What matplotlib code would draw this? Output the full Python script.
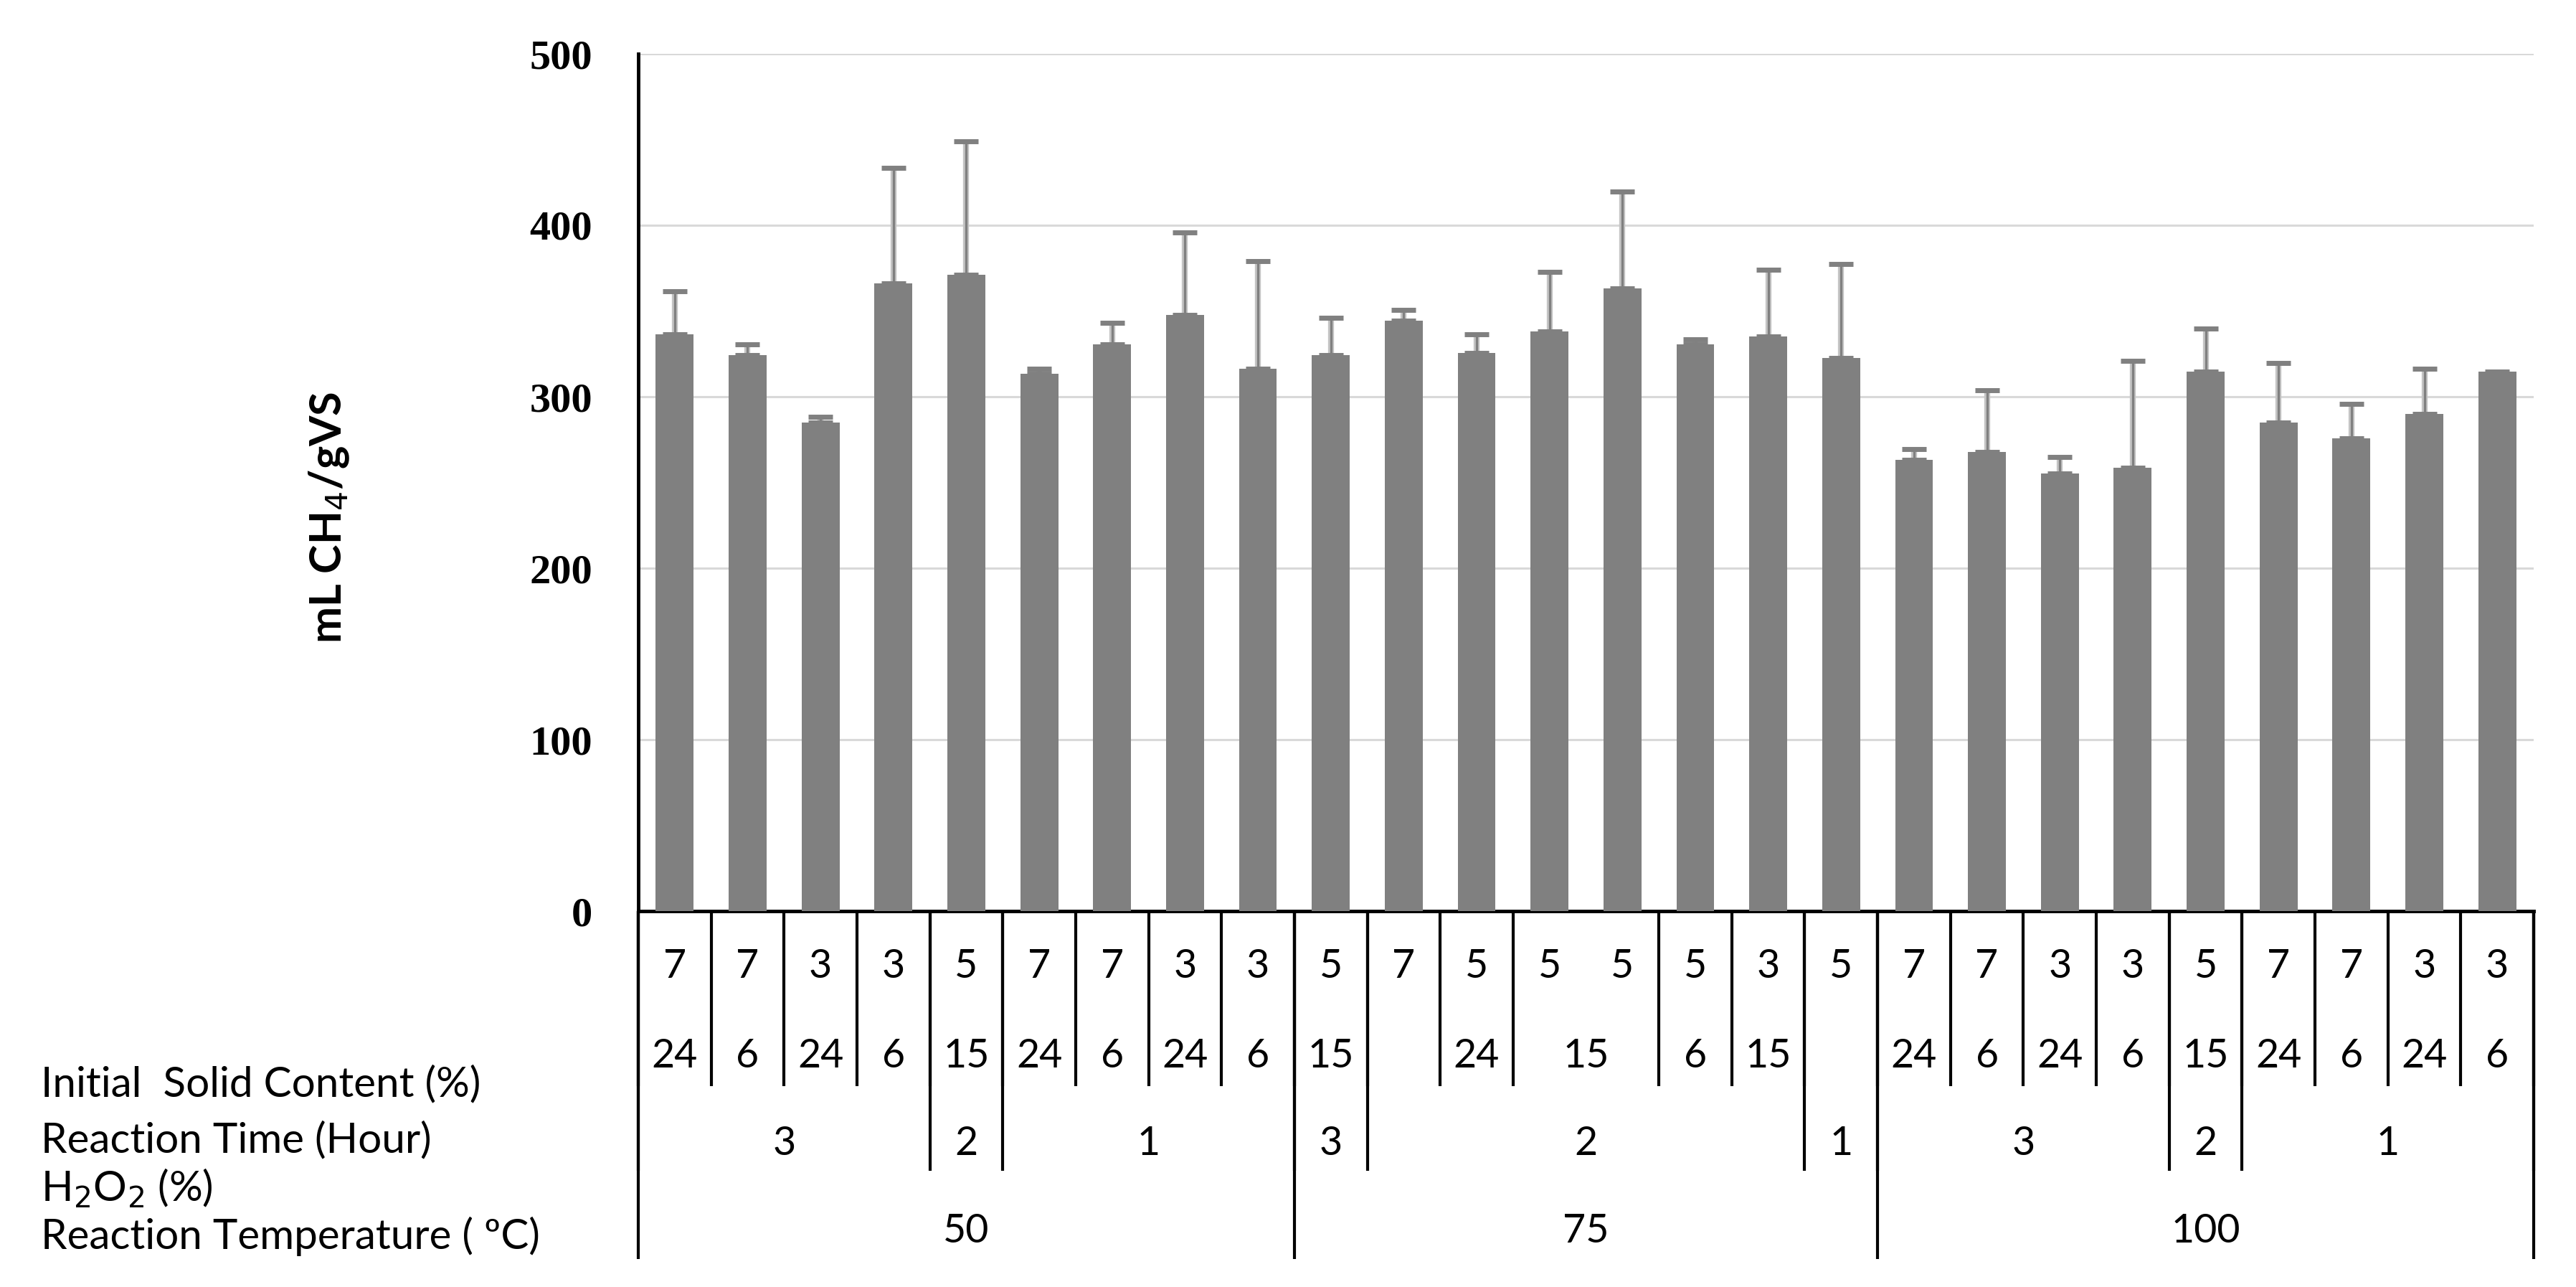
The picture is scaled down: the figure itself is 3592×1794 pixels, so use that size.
import numpy as np
import matplotlib.pyplot as plt
from matplotlib.transforms import blended_transform_factory

# valori (mL CH4 / gVS)
methane = [336.5, 324.1, 285.0, 366.3, 371.0, 313.2, 330.5, 347.5, 316.4,
           324.1, 344.4, 325.6, 338.0, 363.1, 330.5, 335.0, 322.6,
           263.1, 267.8, 255.4, 258.6, 314.7, 285.0, 275.7, 289.8, 314.7]
err_plus = [25.0, 6.4, 3.3, 67.0, 78.0, 3.2, 12.5, 48.5, 62.5,
            22.0, 6.3, 11.0, 34.7, 56.5, 2.8, 39.0, 55.0,
            6.4, 36.0, 9.4, 62.5, 25.0, 34.6, 20.3, 26.6, np.nan]

# etichete pe niveluri (axa cu categorii multiple)
solid_labels = ['7', '7', '3', '3', '5', '7', '7', '3', '3',
                '5', '7', '5', '5', '5', '5', '3', '5',
                '7', '7', '3', '3', '5', '7', '7', '3', '3']
time_labels = ['24', '6', '24', '6', '15', '24', '6', '24', '6',
               '15', '', '24', '15', '6', '15', '',
               '24', '6', '24', '6', '15', '24', '6', '24', '6']
time_spans = [1, 1, 1, 1, 1, 1, 1, 1, 1,
              1, 1, 1, 2, 1, 1, 1,
              1, 1, 1, 1, 1, 1, 1, 1, 1]
h2o2_labels = ['3', '2', '1', '3', '2', '1', '3', '2', '1']
h2o2_spans = [4, 1, 4, 1, 6, 1, 4, 1, 4]
temp_labels = ['50', '75', '100']
temp_spans = [9, 8, 9]

row_names = ['Initial  Solid Content (%)', 'Reaction Time (Hour)',
             r'H$_2$O$_2$ (%)', 'Reaction Temperature ( ºC)']

W, H = 3592, 1794
fig = plt.figure(figsize=(W / 100, H / 100), dpi=100)
ax = fig.add_axes([890 / W, 1 - 1270 / H, (3533 - 890) / W, (1270 - 75) / H])

x = np.arange(len(methane))
ax.bar(x, methane, width=0.52, color='#808080', zorder=3)
# bara de eroare: contur deschis + linie inchisa la mijloc
ax.errorbar(x, methane, yerr=[np.zeros(len(x)), err_plus], fmt='none',
            ecolor='#c4c4c4', elinewidth=6, capsize=0, zorder=4)
ax.errorbar(x, methane, yerr=[np.zeros(len(x)), err_plus], fmt='none',
            ecolor='#808080', elinewidth=2.4, capsize=12.5, capthick=5, zorder=5)

ax.set_xlim(-0.5, len(x) - 0.5)
ax.set_ylim(0, 500)
ax.set_yticks([0, 100, 200, 300, 400, 500])
ax.set_xticks([])
ax.yaxis.grid(True, color='#d9d9d9', linewidth=2.2, zorder=0)
ax.tick_params(axis='y', length=0, pad=46)
for lab in ax.get_yticklabels():
    lab.set_fontfamily('Liberation Serif')
    lab.set_fontweight('bold')
    lab.set_fontsize(42)

ax.spines['top'].set_visible(False)
ax.spines['right'].set_visible(False)
ax.spines['left'].set_linewidth(3.5)
ax.spines['bottom'].set_linewidth(3.5)

fig.text(459 / W, 1 - 721 / H, r'mL CH$_4$/gVS', rotation=90, ha='center', va='center',
         fontsize=44, fontweight='bold', family='Lato')

# tabelul de sub axa
tr = blended_transform_factory(ax.transData, fig.transFigure)


def fy(py):
    return 1 - py / H


def vline(xpos, bottom):
    ax.plot([xpos, xpos], [fy(1270), fy(bottom)], color='black', lw=3,
            transform=tr, clip_on=False, solid_capstyle='butt')


text_kw = dict(ha='center', va='center', fontsize=40, family='Lato', transform=tr)

for i, s in enumerate(solid_labels):
    ax.text(i, fy(1347), s, **text_kw)


def level(labels, spans, ytext, ybottom):
    start = 0
    for lab, sp in zip(labels, spans):
        ax.text(start + sp / 2 - 0.5, fy(ytext), lab, **text_kw)
        vline(start - 0.5, ybottom)
        start += sp
    vline(start - 0.5, ybottom)


level(time_labels, time_spans, 1472, 1514)
level(h2o2_labels, h2o2_spans, 1594, 1632)
level(temp_labels, temp_spans, 1716, 1755)

for name, py in zip(row_names, [1512, 1590, 1656, 1723]):
    fig.text(57 / W, fy(py), name, ha='left', va='center', fontsize=42, family='Lato')

fig.savefig('out.png', dpi=100)
